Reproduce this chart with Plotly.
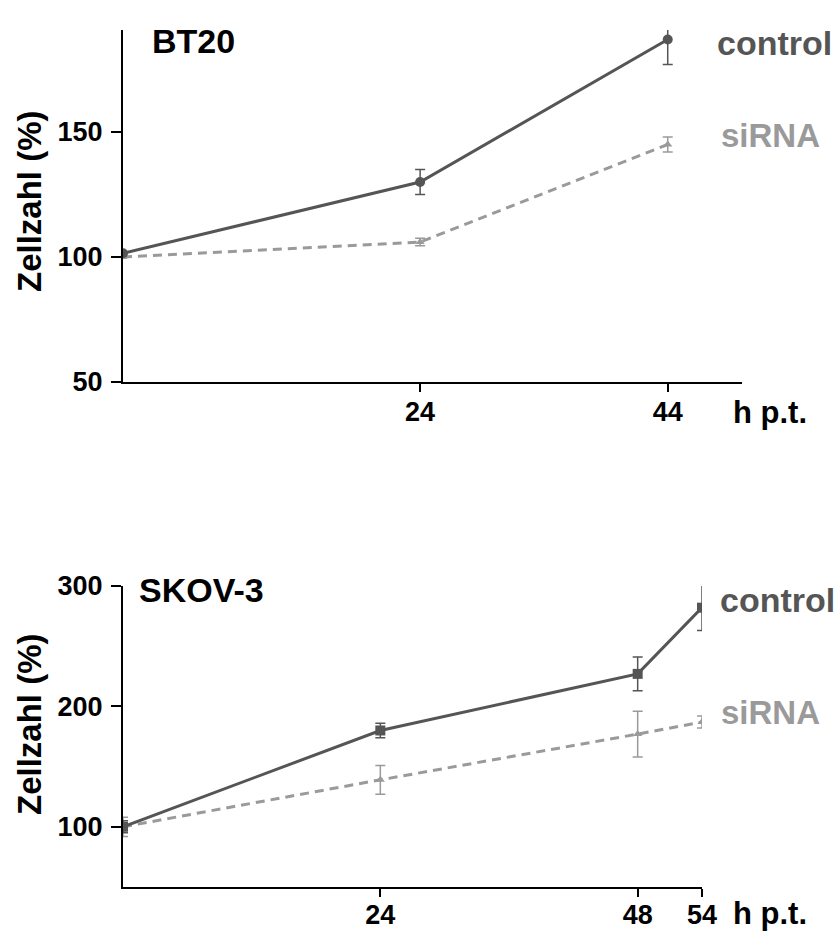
import plotly.graph_objects as go

W, H = 837, 933

# ---- data: BT20 ----
bt_hours = [0, 24, 44]
bt_control = [101.5, 130, 187]
bt_control_err = [0, 5, 10]
bt_sirna = [100, 106, 145]
bt_sirna_err = [0, 1.5, 3]

# ---- data: SKOV-3 ----
sk_hours = [0, 24, 48, 54]
sk_control = [100, 180, 227, 282]
sk_control_err = [5, 6, 14, 19]
sk_sirna = [100, 139, 177, 187]
sk_sirna_err = [8, 12, 19, 5]

bt_xticks = [24, 44]
sk_xticks = [24, 48, 54]
bt_yticks = [50, 100, 150]
sk_yticks = [100, 200, 300]

C_CTRL = "#555555"
C_SI = "#9a9a9a"
FONT = "Liberation Sans"

def px_x(p):
    return p / W

def px_y(p):
    return 1 - p / H

fig = go.Figure()

def add_pair(xs, ctrl, ctrl_e, si, si_e, xa, ya, ctrl_symbol, ctrl_size):
    fig.add_trace(go.Scatter(
        x=xs, y=si, xaxis=xa, yaxis=ya, mode="lines+markers",
        line=dict(color=C_SI, width=3, dash="9px,6px"),
        marker=dict(symbol="triangle-up", size=8, color=C_SI),
        error_y=dict(type="data", array=si_e, color=C_SI, thickness=1.5, width=5),
        showlegend=False))
    fig.add_trace(go.Scatter(
        x=xs, y=ctrl, xaxis=xa, yaxis=ya, mode="lines+markers",
        line=dict(color=C_CTRL, width=3),
        marker=dict(symbol=ctrl_symbol, size=ctrl_size, color=C_CTRL),
        error_y=dict(type="data", array=ctrl_e, color=C_CTRL, thickness=1.5, width=5),
        showlegend=False))

add_pair(bt_hours, bt_control, bt_control_err, bt_sirna, bt_sirna_err, "x", "y", "circle", 10)
add_pair(sk_hours, sk_control, sk_control_err, sk_sirna, sk_sirna_err, "x2", "y2", "square", 10)

ytickfont = dict(family=FONT, size=27, color="black", weight="bold")
xtickfont = dict(family=FONT, size=27, color="black", weight="bold")
axcommon = dict(showline=True, linecolor="black", linewidth=2, showgrid=False,
                zeroline=False, ticks="outside", tickwidth=2,
                tickcolor="black", automargin=False)

fig.update_layout(
    width=W, height=H,
    margin=dict(l=0, r=0, t=0, b=0),
    paper_bgcolor="white", plot_bgcolor="white",
    xaxis=dict(domain=[px_x(123), px_x(742)], range=[0, 50], anchor="y", ticklen=8,
               tickfont=xtickfont, ticklabelstandoff=-3,
               tickvals=bt_xticks, ticktext=[str(v) for v in bt_xticks], **axcommon),
    yaxis=dict(domain=[px_y(382), px_y(30)], range=[50, 190.8], anchor="x", ticklen=10,
               tickfont=ytickfont, ticklabelstandoff=3,
               tickvals=bt_yticks, ticktext=[str(v) for v in bt_yticks], **axcommon),
    xaxis2=dict(domain=[px_x(123), px_x(702)], range=[0, 54], anchor="y2", ticklen=8,
                tickfont=xtickfont, ticklabelstandoff=-5,
                tickvals=sk_xticks, ticktext=[str(v) for v in sk_xticks], **axcommon),
    yaxis2=dict(domain=[px_y(887), px_y(586)], range=[50, 300], anchor="x2", ticklen=10,
                tickfont=ytickfont, ticklabelstandoff=3,
                tickvals=sk_yticks, ticktext=[str(v) for v in sk_yticks], **axcommon),
)

def ann(text, xp, yp, size, color="black", xanchor="left", angle=0):
    fig.add_annotation(text=text, x=px_x(xp), y=px_y(yp), xref="paper", yref="paper",
                       xanchor=xanchor, yanchor="middle", showarrow=False, textangle=angle,
                       font=dict(family=FONT, size=size, color=color, weight="bold"))

ann("BT20", 150, 41, 34)
ann("SKOV-3", 137, 590, 34)
ann("control", 715, 43, 34, C_CTRL)
ann("siRNA", 719, 136, 33, C_SI)
ann("control", 718, 600, 34, C_CTRL)
ann("siRNA", 719, 712, 33, C_SI)
ann("h p.t.", 731, 413, 31)
ann("h p.t.", 731, 913, 31)
ann("Zellzahl (%)", 29, 201, 33, angle=-90, xanchor="center")
ann("Zellzahl (%)", 29, 724, 33, angle=-90, xanchor="center")

fig.write_html(
    "out.html",
    config={"responsive": False, "displayModeBar": False},
    post_script="document.body.style.margin='0';document.body.style.overflow='hidden';",
)
